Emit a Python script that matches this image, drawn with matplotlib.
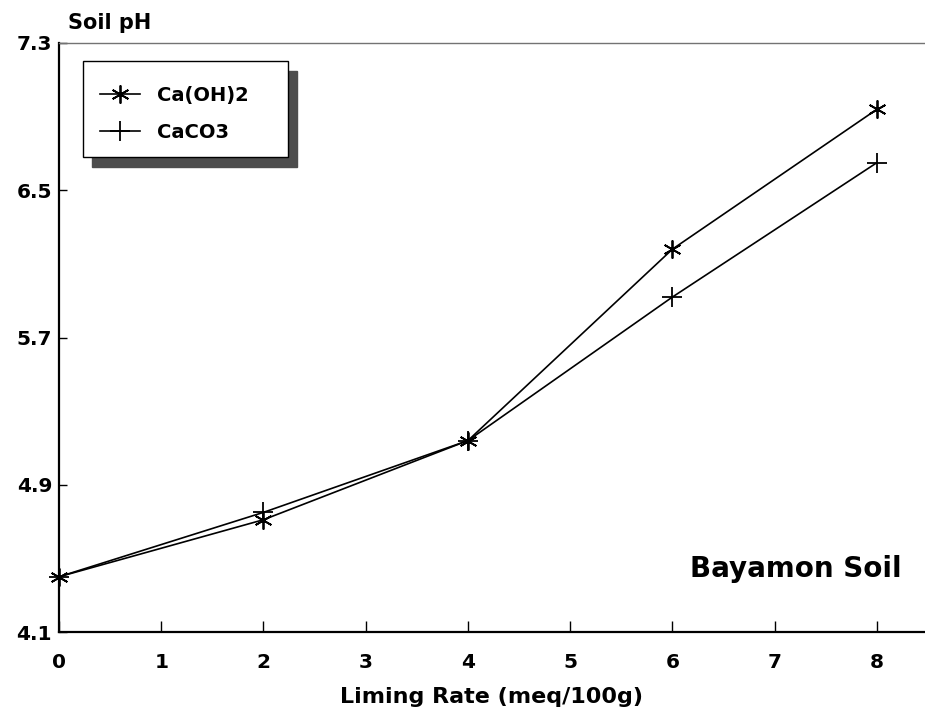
import matplotlib
matplotlib.use("Agg")
import matplotlib.pyplot as plt
from matplotlib.patches import Rectangle

plt.rcParams['font.family'] = ['DejaVu Sans']
plt.rcParams['font.weight'] = 'bold'

rates = [0, 2, 4, 6, 8]
ca_oh2 = [4.40, 4.71, 5.14, 6.18, 6.94]
caco3 = [4.40, 4.75, 5.14, 5.92, 6.65]
x_ticks = [0, 1, 2, 3, 4, 5, 6, 7, 8]
y_ticks = [4.1, 4.9, 5.7, 6.5, 7.3]

W, H = 925, 718
fig = plt.figure(figsize=(W / 100, H / 100), dpi=100)
ax = fig.add_axes([59 / W, (H - 632) / H, 866 / W, 589 / H])

ax.plot(rates, ca_oh2, color='black', lw=1.2, marker=(6, 2, 0), ms=13, mew=1.3,
        label='Ca(OH)2', clip_on=False, zorder=3)
ax.plot(rates, caco3, color='black', lw=1.2, marker='+', ms=15, mew=1.3,
        label='CaCO3', clip_on=False, zorder=3)

ax.set_xlim(0, 8.47)
ax.set_ylim(4.1, 7.3)
ax.set_xticks(x_ticks)
ax.set_xticklabels([str(v) for v in x_ticks])
ax.set_yticks(y_ticks)
ax.set_yticklabels([f"{v:.1f}" for v in y_ticks])
ax.tick_params(axis='x', direction='in', length=8, width=1, pad=15, labelsize=14.5)
ax.tick_params(axis='y', direction='in', length=6, width=1, pad=5, labelsize=14.5)

for s in ['left', 'bottom']:
    ax.spines[s].set_linewidth(1.6)
ax.spines['right'].set_visible(False)
ax.spines['top'].set_color('0.45')
ax.spines['top'].set_linewidth(1.0)

ax.set_xlabel('Liming Rate (meq/100g)', fontsize=16, fontweight='bold', labelpad=11)
fig.text(68 / W, 1 - 23 / H, 'Soil pH', fontsize=15, fontweight='bold', va='center', ha='left')

ax.text(7.21, 4.40, 'Bayamon Soil', fontsize=20, fontweight='bold', ha='center', va='baseline')

# legend frame and shadow
ax.add_patch(Rectangle(((83 + 9) / W, (H - 157 - 10) / H), 205 / W, 96 / H,
                       transform=fig.transFigure, facecolor='0.3', edgecolor='0.3',
                       zorder=5, clip_on=False))
ax.add_patch(Rectangle((83 / W, (H - 157) / H), 205 / W, 96 / H,
                       transform=fig.transFigure, facecolor='white', edgecolor='black',
                       lw=1.0, zorder=6, clip_on=False))
leg = ax.legend(loc='upper left', bbox_to_anchor=(100 / W, 1 - 86 / H),
                bbox_transform=fig.transFigure, frameon=False, borderpad=0,
                borderaxespad=0, handlelength=2.06, handletextpad=0.88,
                labelspacing=0.92, prop={'size': 14, 'weight': 'bold'})
leg.set_zorder(7)

fig.savefig('out.png', dpi=100)
